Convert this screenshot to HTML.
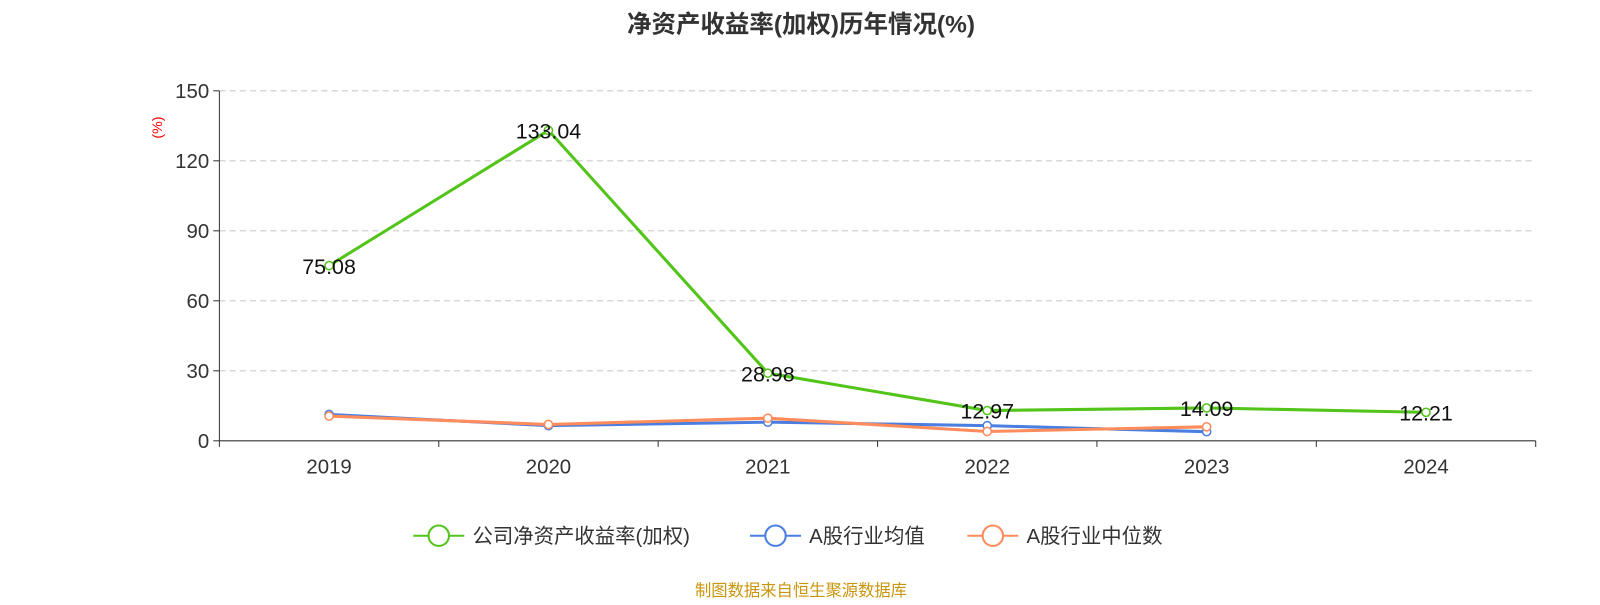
<!DOCTYPE html>
<html><head><meta charset="utf-8"><style>
body{margin:0;background:#fff;font-family:"Liberation Sans","Noto Sans CJK SC",sans-serif;}
</style></head><body>
<svg id="chart" width="1600" height="600" xmlns="http://www.w3.org/2000/svg" font-family="Liberation Sans, Noto Sans CJK SC, sans-serif">
<g transform="scale(1.0204)">
<text x="785" y="32" text-anchor="middle" font-size="24" font-weight="bold" fill="#333">净资产收益率(加权)历年情况(%)</text>
<text transform="translate(159,125) rotate(-90)" text-anchor="middle" font-size="14" fill="red">(%)</text>
<g id="grid"></g><g id="axes"></g><g id="series"></g>
<g font-size="20" fill="#333">
<g><line x1="405" y1="525" x2="455" y2="525" stroke="#52c41a" stroke-width="2"/><circle cx="430" cy="525" r="10" fill="#fff" stroke="#52c41a" stroke-width="2"/><text x="463" y="532">公司净资产收益率(加权)</text></g>
<g><line x1="735" y1="525" x2="785" y2="525" stroke="#4a7ee0" stroke-width="2"/><circle cx="760" cy="525" r="10" fill="#fff" stroke="#4a7ee0" stroke-width="2"/><text x="793" y="532">A股行业均值</text></g>
<g><line x1="948" y1="525" x2="998" y2="525" stroke="#ff8c5a" stroke-width="2"/><circle cx="973" cy="525" r="10" fill="#fff" stroke="#ff8c5a" stroke-width="2"/><text x="1006" y="532">A股行业中位数</text></g>
</g>
<text x="785" y="584" text-anchor="middle" font-size="16" fill="#c8960c">制图数据来自恒生聚源数据库</text>
</g>
</svg>
<script>
const categories=["2019","2020","2021","2022","2023","2024"];
const companyValues=[75.08,133.04,28.98,12.97,14.09,12.21];
const industryAvg=[11.3,6.5,8.0,6.5,3.9];
const industryMedian=[10.6,7.0,9.7,4.0,6.0];
const yTicks=[0,30,60,90,120,150];
const NS="http://www.w3.org/2000/svg";
const x0=215,x1=1505,y0=432,y1=89,band=(x1-x0)/categories.length;
const xs=i=>x0+band*(i+0.5), ys=v=>y0-(v/150)*(y0-y1);
function mk(t,a,p){const e=document.createElementNS(NS,t);for(const k in a)e.setAttribute(k,a[k]);p.appendChild(e);return e;}
const grid=document.getElementById('grid'),axes=document.getElementById('axes'),ser=document.getElementById('series');
yTicks.forEach(v=>{
 if(v>0){const g=mk('line',{x1:x0,x2:x1,y1:ys(v),y2:ys(v),stroke:'#ccc','stroke-dasharray':'6,4'},grid);
 
 }
 const t=mk('text',{x:x0-10,y:ys(v)+7,'text-anchor':'end','font-size':20,fill:'#333'},axes);t.textContent=v;
 
 
 mk('line',{x1:x0-6,x2:x0,y1:ys(v),y2:ys(v),stroke:'#333'},axes);
});
const ya=mk('line',{x1:x0,x2:x0,y1:y1,y2:y0,stroke:'#333'},axes);


const xa=mk('line',{x1:x0,x2:x1,y1:y0,y2:y0,stroke:'#333'},axes);


for(let i=0;i<=categories.length;i++)mk('line',{x1:x0+band*i,x2:x0+band*i,y1:y0,y2:y0+6,stroke:'#333'},axes);
categories.forEach((c,i)=>{const t=mk('text',{x:xs(i),y:y0+32,'text-anchor':'middle','font-size':20,fill:'#333'},axes);t.textContent=c;
 
 });
function series(vals,color,name,labels){
 const g=mk('g',{},ser);
 
 
 mk('polyline',{points:vals.map((v,i)=>xs(i)+','+ys(v)).join(' '),fill:'none',stroke:color,'stroke-width':3},g);
 vals.forEach((v,i)=>{const c=mk('circle',{cx:xs(i),cy:ys(v),r:4,fill:'#fff',stroke:color,'stroke-width':1.5},g);
  
  
  if(labels){const t=mk('text',{x:xs(i),y:ys(v)+8,'text-anchor':'middle','font-size':21,fill:'#111'},g);t.textContent=v.toFixed(2);
   
   }});
}
series(industryAvg,'#4a7ee0','industry-avg-line',false);
series(industryMedian,'#ff8c5a','industry-median-line',false);
series(companyValues,'#52c41a','company-roe-line',true);
</script>
</body></html>
